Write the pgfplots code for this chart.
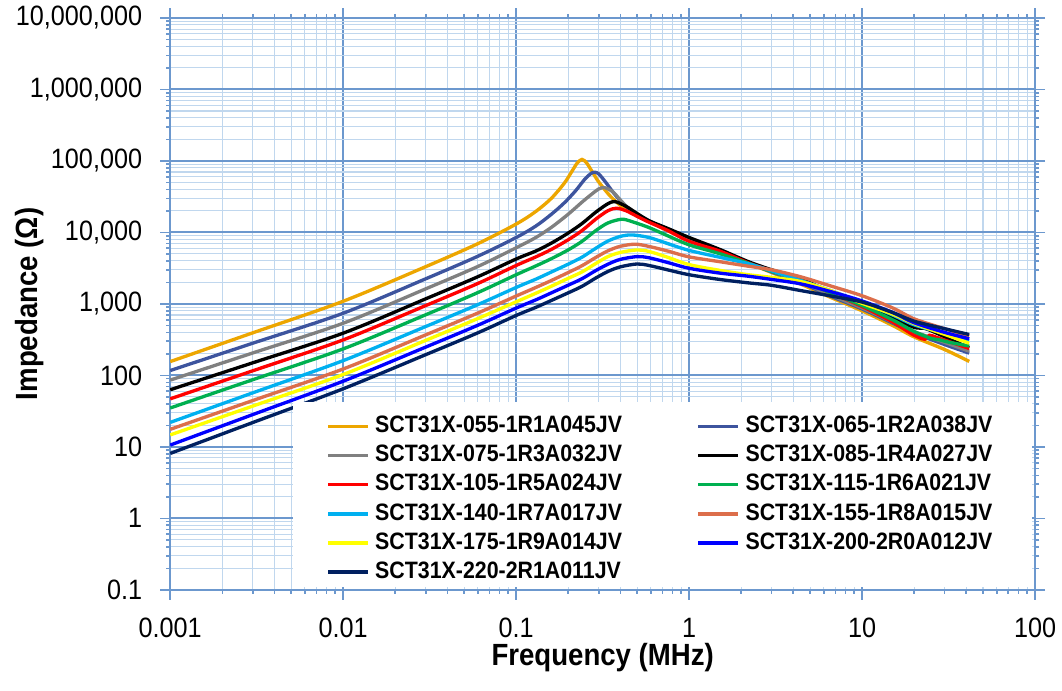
\documentclass[border=0pt]{standalone}
\usepackage{fontspec}
\setmainfont{Liberation Sans}[FakeStretch=0.9]
\usepackage{pgfplots}
\pgfplotsset{compat=1.18}

\definecolor{gridmajor}{RGB}{108,152,206}
\definecolor{gridminor}{RGB}{192,215,238}
\definecolor{cA}{RGB}{237,166,0}
\definecolor{cB}{RGB}{61,84,158}
\definecolor{cC}{RGB}{128,128,128}
\definecolor{cD}{RGB}{0,0,0}
\definecolor{cE}{RGB}{255,0,0}
\definecolor{cF}{RGB}{0,176,80}
\definecolor{cG}{RGB}{0,176,240}
\definecolor{cH}{RGB}{220,110,75}
\definecolor{cI}{RGB}{255,255,0}
\definecolor{cJ}{RGB}{0,0,255}
\definecolor{cK}{RGB}{0,32,96}

\begin{document}
\begin{tikzpicture}
\useasboundingbox (-63.86pt,-37.9pt) rectangle (334.5pt,221.25pt);
\begin{axis}[
  name=ax, at={(0,0)}, anchor=south west,
  scale only axis, width=324.4pt, height=214.5pt,
  xmode=log, ymode=log,
  xmin=0.001, xmax=100, ymin=0.1, ymax=1e7,
  xtick={0.001,0.01,0.1,1,10,100},
  xticklabels={0.001,0.01,0.1,1,10,100},
  ytick={0.1,1,10,100,1000,10000,100000,1000000,10000000},
  yticklabels={0.1,1,10,100,{1,000},{10,000},{100,000},{1,000,000},{10,000,000}},
  grid=both,
  major grid style={draw=gridmajor, line width=0.75pt},
  minor grid style={draw=gridminor, line width=0.4pt},
  axis line style={draw=gridmajor, line width=0.9pt},
  tick align=outside,
  major tick length=3.75pt, minor tick length=1.5pt,
  tick style={draw=gridmajor, line width=0.6pt},
  tick label style={font=\fontsize{10.5}{12}\selectfont},
  xticklabel shift=3.2pt, yticklabel shift=3.3pt,
  xlabel={Frequency (MHz)}, ylabel={Impedance (Ω)},
  label style={font=\bfseries\fontsize{11.5}{13}\selectfont},
  xlabel style={at={([yshift=-28.5pt]rel axis cs:0.5,0)}, anchor=base},
  ylabel style={at={([xshift=-52.6pt]rel axis cs:0,0.5)}, anchor=center, rotate=0},
  legend columns=2,
  legend cell align=left,
  legend image code/.code={\draw[#1,line width=1.3pt] (0pt,0pt) -- (15pt,0pt);},
  legend style={at={(rel axis cs:0.180,0.312)}, anchor=north west,
    draw=none, fill=none, inner sep=0pt,
    font=\bfseries\fontsize{8.9}{10}\selectfont,
    nodes={inner ysep=1.6pt},
    /tikz/every even column/.append style={column sep=26pt}},
  every axis plot/.append style={line width=1.25pt, smooth, no markers},
]
\addplot[cA] coordinates {(0.001,156) (0.003,394) (0.01,1090) (0.03,3320) (0.06,6960) (0.1,13100) (0.13,19700) (0.16,30100) (0.19,49000) (0.21,71500) (0.225,93000) (0.24,105000) (0.255,94300) (0.27,76200) (0.3,50900) (0.35,32200) (0.4,24000) (0.45,19800) (0.586,14300) (0.75,10600) (1,7700) (1.5,5300) (2.2,3700) (3,2750) (4.4,1900) (6.5,1250) (10,800) (15,500) (20,345) (30,230) (41.6,157)};
\addlegendentry{SCT31X-055-1R1A045JV}
\addplot[cB] coordinates {(0.001,117) (0.003,282) (0.01,741) (0.03,2246) (0.06,4643) (0.1,8500) (0.13,12300) (0.16,18000) (0.19,26000) (0.22,38000) (0.25,56000) (0.27,66500) (0.284,69500) (0.3,66000) (0.33,50000) (0.37,34500) (0.42,24700) (0.47,19500) (0.586,14500) (0.75,10800) (1,7900) (1.5,5400) (2.2,3750) (3,2800) (4.4,2000) (6.5,1300) (10,850) (15,540) (20,390) (30,270) (41.6,205)};
\addlegendentry{SCT31X-065-1R2A038JV}
\addplot[cC] coordinates {(0.001,86) (0.003,206) (0.01,537) (0.03,1625) (0.06,3337) (0.1,6100) (0.13,8500) (0.16,11800) (0.2,18000) (0.24,26500) (0.27,33500) (0.3,40500) (0.324,42300) (0.36,37500) (0.4,28500) (0.45,21500) (0.586,14500) (0.75,10900) (1,8000) (1.5,5450) (2.2,3800) (3,2850) (4.4,2050) (6.5,1350) (10,880) (15,560) (20,410) (30,290) (41.6,218)};
\addlegendentry{SCT31X-075-1R3A032JV}
\addplot[cD] coordinates {(0.001,63) (0.003,150) (0.01,390) (0.03,1178) (0.06,2400) (0.1,4250) (0.13,5500) (0.16,7100) (0.2,9800) (0.24,13300) (0.29,19400) (0.34,25300) (0.373,27000) (0.43,23300) (0.5,18400) (0.586,14600) (0.75,11400) (1,8500) (1.5,5800) (2.2,3900) (3,3000) (4.4,2250) (6.5,1480) (10,970) (15,640) (20,470) (23,455) (27,390) (33,310) (41.6,245)};
\addlegendentry{SCT31X-085-1R4A027JV}
\addplot[cE] coordinates {(0.001,47) (0.003,116) (0.01,314) (0.03,948) (0.06,1931) (0.1,3450) (0.13,4550) (0.16,5800) (0.2,7900) (0.24,10600) (0.29,15500) (0.34,20200) (0.38,21800) (0.43,20200) (0.5,16800) (0.586,13900) (0.75,10700) (1,7500) (1.5,5500) (2.2,3750) (3,2900) (4.4,2150) (6.5,1450) (10,920) (15,560) (19,390) (21,345) (23,320) (24.5,365) (28,330) (41.6,238)};
\addlegendentry{SCT31X-105-1R5A024JV}
\addplot[cF] coordinates {(0.001,35) (0.003,87) (0.01,235) (0.03,705) (0.06,1440) (0.1,2560) (0.13,3400) (0.16,4300) (0.2,5700) (0.24,7500) (0.29,10700) (0.34,13600) (0.408,15300) (0.47,14100) (0.586,11700) (0.75,9000) (1,6700) (1.5,5050) (2.2,3700) (3,2850) (4.4,2150) (6.5,1450) (10,950) (15,600) (20,410) (25,330) (28,315) (32,290) (41.6,258)};
\addlegendentry{SCT31X-115-1R6A021JV}
\addplot[cG] coordinates {(0.001,22) (0.003,57) (0.01,161) (0.03,483) (0.06,977) (0.1,1700) (0.13,2220) (0.16,2800) (0.2,3600) (0.24,4500) (0.29,6050) (0.34,7600) (0.4,8800) (0.467,9230) (0.586,8500) (0.75,7000) (1,5600) (1.5,4500) (2.2,3650) (3,2900) (4.4,2130) (6.5,1550) (10,1050) (15,700) (20,510) (30,385) (41.6,307)};
\addlegendentry{SCT31X-140-1R7A017JV}
\addplot[cH] coordinates {(0.001,17.6) (0.003,44.5) (0.01,123) (0.03,369) (0.06,745) (0.1,1290) (0.13,1700) (0.16,2130) (0.2,2750) (0.24,3420) (0.29,4500) (0.34,5550) (0.4,6400) (0.488,6850) (0.586,6370) (0.75,5500) (1,4550) (1.5,3900) (2.2,3370) (3,3000) (4.4,2400) (6.5,1800) (10,1300) (15,880) (20,618) (30,450) (41.6,355)};
\addlegendentry{SCT31X-155-1R8A015JV}
\addplot[cI] coordinates {(0.001,14.7) (0.003,37.2) (0.01,103) (0.03,309) (0.06,624) (0.1,1070) (0.13,1410) (0.16,1770) (0.2,2280) (0.24,2800) (0.29,3700) (0.34,4600) (0.4,5250) (0.5,5690) (0.586,5420) (0.75,4500) (1,3550) (1.5,2950) (2.2,2560) (3,2350) (4.4,2060) (6.5,1550) (10,1020) (15,720) (20,530) (30,375) (41.6,282)};
\addlegendentry{SCT31X-175-1R9A014JV}
\addplot[cJ] coordinates {(0.001,10.6) (0.003,28.3) (0.01,83) (0.03,249) (0.06,503) (0.1,875) (0.13,1140) (0.16,1430) (0.2,1830) (0.24,2250) (0.29,2950) (0.34,3600) (0.4,4200) (0.5,4590) (0.586,4420) (0.75,3800) (1,3150) (1.5,2700) (2.2,2440) (3,2200) (4.4,1910) (6.5,1500) (10,1100) (15,760) (20,545) (30,400) (41.6,325)};
\addlegendentry{SCT31X-200-2R0A012JV}
\addplot[cK] coordinates {(0.001,8.1) (0.003,21.9) (0.01,65) (0.03,195) (0.06,394) (0.1,690) (0.13,895) (0.16,1120) (0.2,1430) (0.24,1760) (0.29,2320) (0.34,2850) (0.4,3300) (0.5,3620) (0.586,3450) (0.75,3000) (1,2560) (1.5,2200) (2.2,1970) (3,1820) (4.4,1540) (6.5,1300) (10,1060) (15,760) (20,573) (30,450) (41.6,373)};
\addlegendentry{SCT31X-220-2R1A011JV}
\fill[white] (rel axis cs:0.142,0.005) rectangle (rel axis cs:0.997,0.329);
\end{axis}
\end{tikzpicture}
\end{document}
